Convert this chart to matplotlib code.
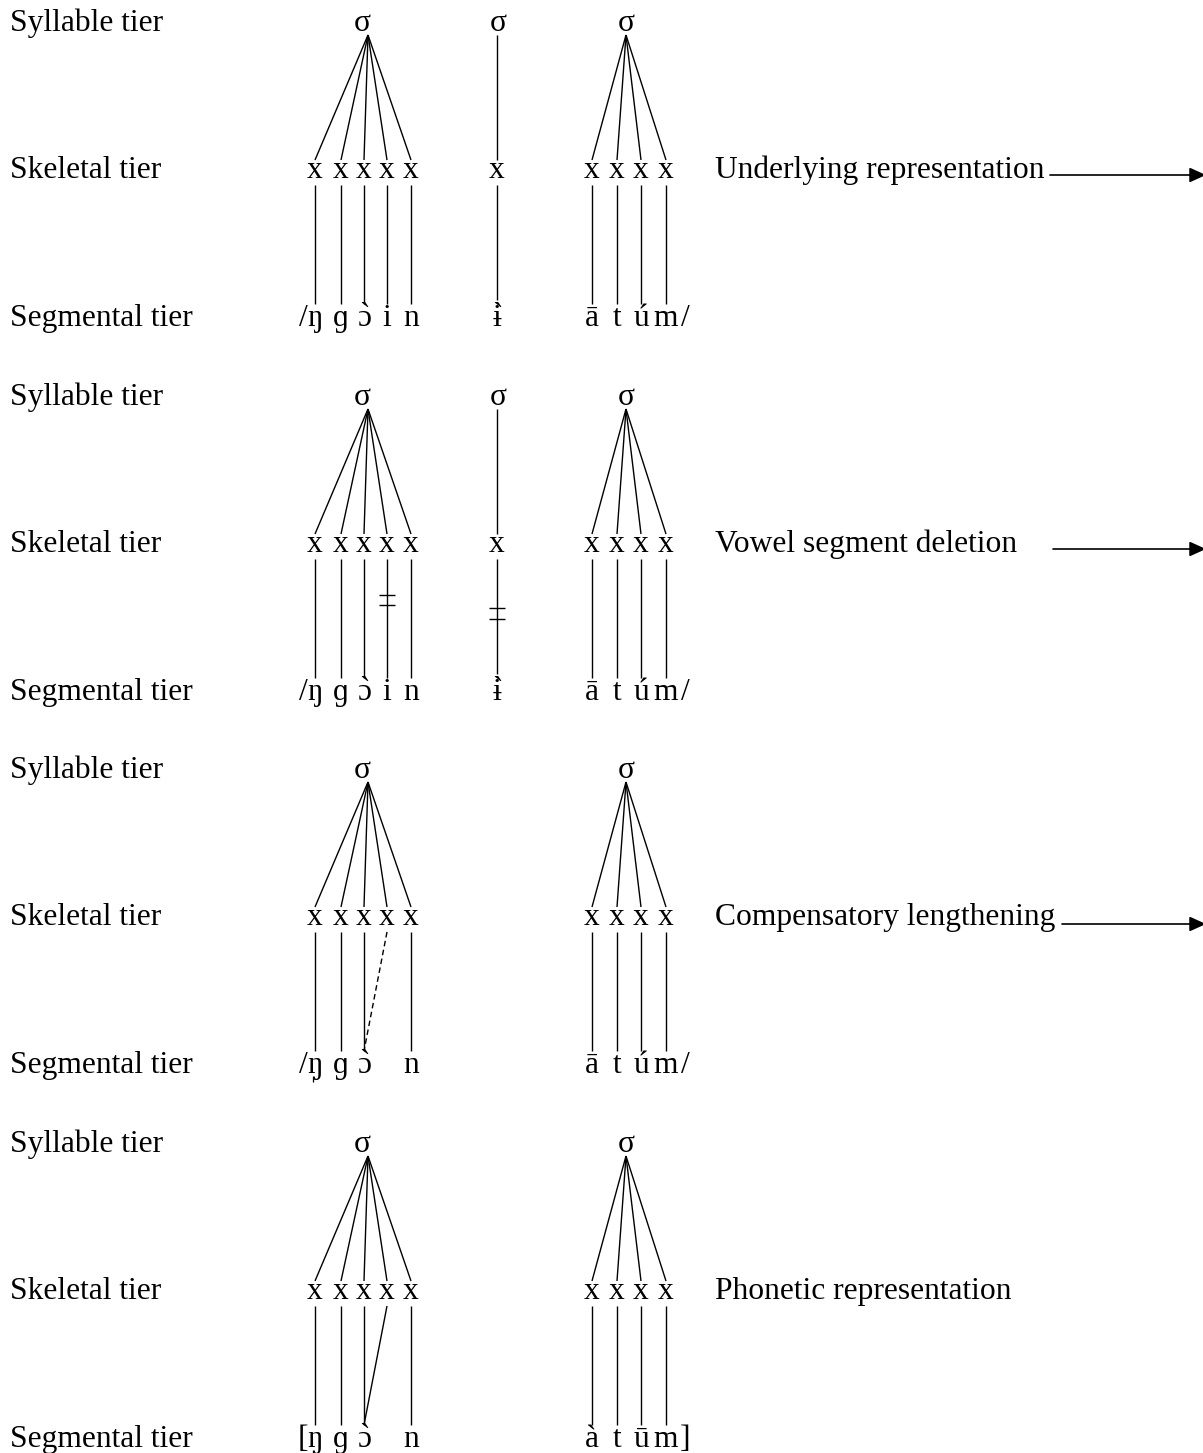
import matplotlib
matplotlib.use("Agg")
import matplotlib.pyplot as plt

# ---------------- data ----------------
tier_labels = ["Syllable tier", "Skeletal tier", "Segmental tier"]
stage_labels = ["Underlying representation", "Vowel segment deletion",
                "Compensatory lengthening", "Phonetic representation"]
stage_arrow = [True, True, True, False]

# base letters and (spacing) accents drawn above them
word1_segments = [["ŋ", "ɡ", "ɔ", "i", "n"],
                  ["ŋ", "ɡ", "ɔ", "i", "n"],
                  ["ŋ", "ɡ", "ɔ", "", "n"],
                  ["ŋ", "ɡ", "ɔ", "", "n"]]
word1_accents = [["", "", "`", "", ""],
                 ["", "", "`", "", ""],
                 ["", "", "`", "", ""],
                 ["", "", "`", "", ""]]
word1_syllabic = [False, False, True, True]   # syllabic mark under ŋ
word2_segments = ["ɨ", "ɨ", None, None]
word2_accents = ["`", "`", None, None]
word3_segments = [["ā", "t", "ú", "m"],
                  ["ā", "t", "ú", "m"],
                  ["ā", "t", "ú", "m"],
                  ["à", "t", "ū", "m"]]
open_brackets = ["/", "/", "/", "["]
close_brackets = ["/", "/", "/", "]"]

# association lines skeleton -> segment for word 1: (x index, segment index, style)
word1_links = [
    [(0, 0, "-"), (1, 1, "-"), (2, 2, "-"), (3, 3, "-"), (4, 4, "-")],
    [(0, 0, "-"), (1, 1, "-"), (2, 2, "-"), (3, 3, "-"), (4, 4, "-")],
    [(0, 0, "-"), (1, 1, "-"), (2, 2, "-"), (3, 2, "--"), (4, 4, "-")],
    [(0, 0, "-"), (1, 1, "-"), (2, 2, "-"), (3, 2, "-"), (4, 4, "-")],
]
word1_delinked = [[], [3], [], []]
word2_delinked = [[], [0], [], []]

# ---------------- layout ----------------
W, H = 1203, 1453
panel_offsets = [0, 374, 747, 1121]
w1_x = [315, 341, 364, 387, 411]
w2_x = [497]
w3_x = [592, 617, 641, 666]
sigma_x = [362, 498, 626]
apex_x = [368, 497, 626]
y_syll, y_skel, y_seg = 31, 178, 326
y_apex, y_xtop, y_xbot, y_segtop = 35, 160, 185, 304
arrow_y = [175, 175, 177, 0]
arrow_x0 = [1050, 1053, 1062, 0]

FS = 22.7
FAM = ["Liberation Serif", "DejaVu Serif"]
LW = 1.0

fig = plt.figure(figsize=(W / 100, H / 100), dpi=100)
ax = fig.add_axes([0, 0, 1, 1])
ax.set_xlim(0, W)
ax.set_ylim(H, 0)
ax.axis("off")


def txt(x, y, s, ha="center"):
    return ax.text(x, y, s, fontsize=FS, family=FAM, ha=ha, va="baseline", color="black")


def line(x0, y0, x1, y1, ls="-", lw=LW):
    if ls == "--":
        ax.plot([x0, x1], [y0, y1], color="black", lw=lw, ls=(0, (4, 2.5)))
    else:
        ax.plot([x0, x1], [y0, y1], color="black", lw=lw, solid_capstyle="butt")


for p, off in enumerate(panel_offsets):
    # tier labels
    for lab, yy in zip(tier_labels, [y_syll, y_skel, y_seg]):
        txt(10, off + yy, lab, ha="left")
    # stage label
    txt(715, off + y_skel, stage_labels[p], ha="left")
    if stage_arrow[p]:
        ax.annotate("", xy=(1206, off + arrow_y[p]), xytext=(arrow_x0[p], off + arrow_y[p]),
                    annotation_clip=False,
                    arrowprops=dict(arrowstyle="-|>,head_length=1.0,head_width=0.45",
                                    color="black", lw=1.2, shrinkA=0, shrinkB=0))

    # words: (skeleton x positions, sigma index, segments, accents)
    words = [(w1_x, 0, word1_segments[p], word1_accents[p])]
    if word2_segments[p] is not None:
        words.append((w2_x, 1, [word2_segments[p]], [word2_accents[p]]))
    words.append((w3_x, 2, word3_segments[p], [""] * len(w3_x)))

    for xs, si, segs, accs in words:
        txt(sigma_x[si], off + y_syll, "σ")
        for xx in xs:
            txt(xx, off + y_skel, "x")
            line(apex_x[si], off + y_apex, xx, off + y_xtop)
        for xx, sg, ac in zip(xs, segs, accs):
            if sg:
                txt(xx, off + y_seg, sg)
            if ac:
                txt(xx, off + y_seg - 2, ac)

    if word1_syllabic[p]:
        line(w1_x[0] - 2, off + y_seg + 3, w1_x[0] - 2, off + y_seg + 9, lw=0.9)

    # association lines
    for i, j, ls in word1_links[p]:
        if word1_segments[p][j]:
            line(w1_x[i], off + y_xbot, w1_x[j], off + y_segtop, ls)
    if word2_segments[p] is not None:
        line(w2_x[0], off + y_xbot, w2_x[0], off + y_segtop - 4)
    for xx in w3_x:
        line(xx, off + y_xbot, xx, off + y_segtop)

    # delinking marks (=)
    for i in word1_delinked[p]:
        for dy in (221, 231):
            line(w1_x[i] - 8, off + dy, w1_x[i] + 8, off + dy)
    for i in word2_delinked[p]:
        for dy in (234, 245):
            line(w2_x[i] - 8, off + dy, w2_x[i] + 8, off + dy)

    # brackets
    txt(303, off + y_seg, open_brackets[p])
    txt(685, off + y_seg, close_brackets[p])

fig.savefig("out.png", dpi=100, facecolor="white")
